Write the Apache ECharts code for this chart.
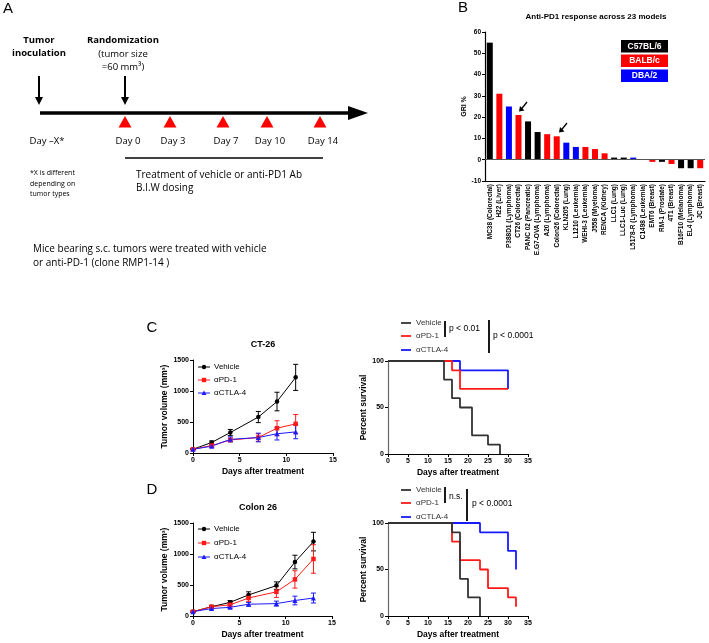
<!DOCTYPE html>
<html><head><meta charset="utf-8">
<script src="https://cdn.jsdelivr.net/npm/echarts@6/dist/echarts.min.js"></script>
<style>html,body{margin:0;padding:0;background:#fff}#c{width:709px;height:643px}</style>
</head><body><div id="c"></div>
<script>
// ---------- Panel B data ----------
const gbModels = ["MC38 (Colorectal)","H22 (Liver)","P388D1 (Lymphoma)","CT26 (Colorectal)","PANC 02 (Pancreatic)","E.G7-OVA (Lymphoma)","A20 (Lymphoma)","Colon26 (Colorectal)","KLN205 (Lung)","L1210 (Leukemia)","WEHI-3 (Leukemia)","J558 (Myeloma)","RENCA (Kidney)","LLC1 (Lung)","LLC1-Luc (Lung)","L5178-R (Lymphoma)","C1498 (Leukemia)","EMT6 (Breast)","RM-1 (Prostate)","4T1 (Breast)","B16F10 (Melanoma)","EL4 (Lymphoma)","JC (Breast)"];
const gbValues = [55,31,25,21,18,13,12,11,8,6,6,5,3,1,1,1,0,-1,-1,-2,-4,-4,-4];
const gbStrain = ["C57","BALB","DBA","BALB","C57","C57","BALB","BALB","DBA","DBA","BALB","BALB","BALB","C57","C57","DBA","C57","BALB","C57","BALB","C57","C57","BALB"];
const strainNames = ["C57BL/6","BALB/c","DBA/2"];
const gbYTicks = [-10,0,10,20,30,40,50,60];

// ---------- Panel C (CT-26) ----------
const ctDays = [0,2,4,7,9,11];
const ctVeh = [60,170,330,580,830,1220];
const ctVehErr = [10,25,50,90,150,210];
const ctPD1 = [60,120,210,250,400,470];
const ctPD1Err = [10,20,30,60,120,150];
const ctCTLA = [60,110,220,250,310,340];
const ctCTLAErr = [10,20,40,70,100,110];
const ctSurvVehT = [0,14,16,18,21,25,28];
const ctSurvVehP = [100,80,60,50,20,10,0];
const ctSurvPD1T = [0,16,18,30];
const ctSurvPD1P = [100,90,70,70];
const ctSurvCTLAT = [0,18,30,30];
const ctSurvCTLAP = [100,90,90,70];

// ---------- Panel D (Colon 26) ----------
const coDays = [0,2,4,6,9,11,13];
const coVeh = [70,150,220,340,490,870,1200];
const coVehErr = [10,20,30,50,60,110,150];
const coPD1 = [70,150,180,290,390,590,920];
const coPD1Err = [10,20,30,60,90,140,230];
const coCTLA = [70,120,140,190,200,250,290];
const coCTLAErr = [10,20,20,30,40,70,80];
const coSurvVehT = [0,16,18,20,23];
const coSurvVehP = [100,90,40,20,0];
const coSurvPD1T = [0,16,18,23,25,30,32];
const coSurvPD1P = [100,80,60,50,30,20,10];
const coSurvCTLAT = [0,23,30,32];
const coSurvCTLAP = [100,90,70,50];

const groupNames = ["Vehicle","αPD-1","αCTLA-4"];

const BLACK='#000000', RED='#ff1a1a', BLUE='#1a1aff', DARK='#333333';
const strainColor = {C57:'#000000', BALB:'#ff0000', DBA:'#0000ff'};
const AF = 'Liberation Sans, Arial, sans-serif';
const CF = 'Open Sans, Noto Sans, sans-serif';

const chart = echarts.init(document.getElementById('c'), null, {renderer:'canvas'});

function pairs(a,b){return a.map((v,i)=>[v,b[i]]);}
function errData(x,m,e){return x.map((d,i)=>[d,m[i]-e[i],m[i]+e[i]]);}
function errSeries(data,color,gi){
  return {type:'custom', xAxisIndex:gi, yAxisIndex:gi, data:data, z:3, silent:true,
    renderItem:function(params,api){
      const x=api.value(0), lo=api.value(1), hi=api.value(2);
      const p1=api.coord([x,lo]), p2=api.coord([x,hi]); const w=2.5;
      return {type:'group',children:[
        {type:'line',shape:{x1:p1[0],y1:p1[1],x2:p2[0],y2:p2[1]},style:{stroke:color,lineWidth:1}},
        {type:'line',shape:{x1:p1[0]-w,y1:p1[1],x2:p1[0]+w,y2:p1[1]},style:{stroke:color,lineWidth:1}},
        {type:'line',shape:{x1:p2[0]-w,y1:p2[1],x2:p2[0]+w,y2:p2[1]},style:{stroke:color,lineWidth:1}}
      ]};
    }};
}
function growthLine(name,data,color,symbol,gi){
  return {type:'line',name:name,xAxisIndex:gi,yAxisIndex:gi,data:data,symbol:symbol,symbolSize:symbol==='triangle'?5:4.5,
    showSymbol:true,itemStyle:{color:color},lineStyle:{color:color,width:1},z:4,silent:true,animation:false};
}
function survLine(name,data,color,gi,z){
  return {type:'line',name:name,xAxisIndex:gi,yAxisIndex:gi,data:data,step:'end',symbol:'none',
    lineStyle:{color:color,width:1.8},z:z,silent:true,animation:false};
}

const plain = v => String(v);
const tickLbl = {fontFamily:AF,fontSize:7,fontWeight:'bold',color:'#000',formatter:plain};
function growthX(gi){return {gridIndex:gi,type:'value',min:0,max:15,interval:5,
  name:'Days after treatment',nameLocation:'middle',nameGap:14,
  nameTextStyle:{fontFamily:AF,fontSize:8.5,fontWeight:'bold',color:'#000'},
  axisLine:{lineStyle:{color:'#000',width:1}},axisTick:{length:3,lineStyle:{color:'#000'}},
  axisLabel:Object.assign({margin:4},tickLbl),splitLine:{show:false}};}
function growthY(gi){return {gridIndex:gi,type:'value',min:0,max:1500,interval:500,
  name:'Tumor volume (mm³)',nameLocation:'middle',nameGap:21,
  nameTextStyle:{fontFamily:AF,fontSize:8.5,fontWeight:'bold',color:'#000'},
  axisLine:{show:true,lineStyle:{color:'#000',width:1}},axisTick:{show:true,length:3,lineStyle:{color:'#000'}},
  axisLabel:Object.assign({margin:4},tickLbl),splitLine:{show:false}};}
function survX(gi){return {gridIndex:gi,type:'value',min:0,max:35,interval:5,
  name:'Days after treatment',nameLocation:'middle',nameGap:14,
  nameTextStyle:{fontFamily:AF,fontSize:8.5,fontWeight:'bold',color:'#000'},
  axisLine:{lineStyle:{color:'#000',width:1}},axisTick:{length:3,lineStyle:{color:'#000'}},
  axisLabel:Object.assign({margin:4},tickLbl),splitLine:{show:false}};}
function survY(gi){return {gridIndex:gi,type:'value',min:0,max:100,interval:50,
  name:'Percent survival',nameLocation:'middle',nameGap:18,
  nameTextStyle:{fontFamily:AF,fontSize:8.5,fontWeight:'bold',color:'#000'},
  axisLine:{show:true,lineStyle:{color:'#666',width:1.2}},axisTick:{show:true,length:3,lineStyle:{color:'#000'}},
  axisLabel:Object.assign({margin:4},tickLbl),splitLine:{show:false}};}

// ---------- graphics (panel A, labels, legends) ----------
const G = [];
function txt(t,x,y,opt){opt=opt||{};G.push({type:'text',x:x,y:y,silent:true,style:{text:t,
  font:(opt.weight||'normal')+' '+(opt.size||9)+'px '+(opt.family||AF),fill:opt.color||'#000',
  align:opt.align||'left',verticalAlign:'middle'}});}
function ln(x1,y1,x2,y2,w,c){G.push({type:'line',silent:true,shape:{x1:x1,y1:y1,x2:x2,y2:y2},style:{stroke:c||'#000',lineWidth:w}});}
function poly(pts,c){G.push({type:'polygon',silent:true,shape:{points:pts},style:{fill:c}});}
function rect(x,y,w,h,c){G.push({type:'rect',silent:true,shape:{x:x,y:y,width:w,height:h},style:{fill:c}});}

// Panel letters
txt('A',8,9,{size:15,align:'center'});
txt('B',463,8,{size:15,align:'center'});
txt('C',152,328,{size:15,align:'center'});
txt('D',152,490,{size:15,align:'center'});

// Panel A timeline
txt('Tumor',39,40,{family:CF,weight:'bold',size:9.5,align:'center'});
txt('inoculation',39,53,{family:CF,weight:'bold',size:9.5,align:'center'});
txt('Randomization',123,40,{family:CF,weight:'bold',size:9.5,align:'center'});
txt('(tumor size',123,54,{family:CF,size:9.5,align:'center'});
txt('=60 mm³)',123,67,{family:CF,size:9.5,align:'center'});
ln(39,76,39,100,2); poly([[35,97],[39,105],[43,97]],'#000');
ln(125,76,125,100,2); poly([[121,97],[125,105],[129,97]],'#000');
ln(40,113,350,113,3.5); poly([[348,106],[368,113],[348,120]],'#000');
const doseDays = ['Day 0','Day 3','Day 7','Day 10','Day 14'];
const doseX = [125,170,223,267,320];
doseX.forEach(c=>poly([[c-6.5,127.5],[c,116],[c+6.5,127.5]],'#ff0000'));
txt('Day –X*',47,141,{family:CF,size:9.5,align:'center'});
doseDays.forEach((d,i)=>txt(d,doseX[i]+3,141,{family:CF,size:9.5,align:'center'}));
ln(125,158,323,158,1.3);
txt('Treatment of vehicle or anti-PD1 Ab',136,175,{family:CF,size:10});
txt('B.I.W dosing',136,188,{family:CF,size:10});
txt('*X is different',30,173,{family:CF,size:7});
txt('depending on',30,183.5,{family:CF,size:7});
txt('tumor types',30,194,{family:CF,size:7});
txt('Mice bearing s.c. tumors were treated with vehicle',33,249,{family:CF,size:10});
txt('or anti-PD-1 (clone RMP1-14 )',33,263,{family:CF,size:10});

// Panel B title, legend, arrows
txt('Anti-PD1 response across 23 models',596,17,{weight:'bold',size:8,align:'center'});
const legY=[40,54.5,69.5], legC=['#000000','#ff0000','#0000ff'];
strainNames.forEach((s,i)=>{rect(621,legY[i],47,12.5,legC[i]);txt(s,644.5,legY[i]+6.5,{weight:'bold',size:8.5,color:'#fff',align:'center'});});
function smallArrow(x1,y1,x2,y2){ln(x1,y1,x2+2,y2-2,1.3);poly([[x2,y2],[x2+1,y2-5.5],[x2+5.5,y2-1]],'#000');}
smallArrow(527,102,519,111.5);
smallArrow(567,123,559,132.5);

// Growth titles and legends
txt('CT-26',263,345,{weight:'bold',size:9,align:'center'});
txt('Colon 26',258,508,{weight:'bold',size:9,align:'center'});
const gCol=[BLACK,RED,BLUE];
function growthLegend(ys){
  ys.forEach((y,i)=>{ln(198,y,210,y,1,gCol[i]);
    if(i===0) G.push({type:'circle',silent:true,shape:{cx:204,cy:y,r:2.2},style:{fill:gCol[i]}});
    if(i===1) rect(201.8,y-2.2,4.4,4.4,gCol[i]);
    if(i===2) poly([[201.5,y+2],[204,y-2.5],[206.5,y+2]],gCol[i]);
    txt(groupNames[i],214,y,{size:8});});
}
growthLegend([367,380,393]);
growthLegend([529,543,557]);
const sCol=[DARK,RED,BLUE];
function survLegend(ys){ys.forEach((y,i)=>{ln(401,y,411,y,1.8,sCol[i]);txt(groupNames[i],416,y,{size:8,color:'#333'});});}
survLegend([323,336,350]);
survLegend([490,503,517]);
ln(445,321,445,337,1.8); txt('p < 0.01',449,329,{size:8.5});
ln(489,320,489,353,1.8); txt('p < 0.0001',493,336,{size:8.5});
ln(445,487,445,503,1.8); txt('n.s.',449,497,{size:8.5});
ln(467,489,467,521,1.8); txt('p < 0.0001',472,504,{size:8.5});

const option = {
  animation:false,
  backgroundColor:'#ffffff',
  grid:[
    {left:485,top:32,width:220,height:149},
    {left:193,top:360,width:140,height:93},
    {left:388,top:361,width:140,height:93},
    {left:193,top:523,width:139,height:93},
    {left:388,top:523,width:140,height:93}
  ],
  xAxis:[
    {gridIndex:0,type:'category',data:gbModels,axisLine:{onZero:false,lineStyle:{color:'#000',width:1.2}},
      axisTick:{show:false},axisLabel:{rotate:90,interval:0,margin:3,fontFamily:AF,fontSize:6.5,fontWeight:'bold',color:'#000'}},
    growthX(1), survX(2), growthX(3), survX(4)
  ],
  yAxis:[
    {gridIndex:0,type:'value',min:gbYTicks[0],max:gbYTicks[gbYTicks.length-1],interval:10,
      name:'GRI %',nameLocation:'middle',nameGap:17,nameTextStyle:{fontFamily:AF,fontSize:7,fontWeight:'bold',color:'#000'},
      axisLine:{show:true,lineStyle:{color:'#000',width:1.2}},axisTick:{show:true,length:3,lineStyle:{color:'#000'}},
      axisLabel:Object.assign({margin:4},tickLbl,{fontSize:6.5}),splitLine:{show:false}},
    growthY(1), survY(2), growthY(3), survY(4)
  ],
  series:[
    {type:'bar',xAxisIndex:0,yAxisIndex:0,barWidth:6,silent:true,
      data:gbValues.map((v,i)=>({value:v,itemStyle:{color:strainColor[gbStrain[i]]}})),
      markLine:{silent:true,symbol:'none',label:{show:false},lineStyle:{color:'#555',width:1,type:'solid'},data:[{yAxis:0}]}},
    errSeries(errData(ctDays,ctVeh,ctVehErr),BLACK,1),
    errSeries(errData(ctDays,ctPD1,ctPD1Err),RED,1),
    errSeries(errData(ctDays,ctCTLA,ctCTLAErr),BLUE,1),
    growthLine('Vehicle',pairs(ctDays,ctVeh),BLACK,'circle',1),
    growthLine('αPD-1',pairs(ctDays,ctPD1),RED,'rect',1),
    growthLine('αCTLA-4',pairs(ctDays,ctCTLA),BLUE,'triangle',1),
    survLine('αCTLA-4',pairs(ctSurvCTLAT,ctSurvCTLAP),BLUE,2,2),
    survLine('αPD-1',pairs(ctSurvPD1T,ctSurvPD1P),RED,2,3),
    survLine('Vehicle',pairs(ctSurvVehT,ctSurvVehP),DARK,2,4),
    errSeries(errData(coDays,coVeh,coVehErr),BLACK,3),
    errSeries(errData(coDays,coPD1,coPD1Err),RED,3),
    errSeries(errData(coDays,coCTLA,coCTLAErr),BLUE,3),
    growthLine('Vehicle',pairs(coDays,coVeh),BLACK,'circle',3),
    growthLine('αPD-1',pairs(coDays,coPD1),RED,'rect',3),
    growthLine('αCTLA-4',pairs(coDays,coCTLA),BLUE,'triangle',3),
    survLine('αCTLA-4',pairs(coSurvCTLAT,coSurvCTLAP),BLUE,4,2),
    survLine('αPD-1',pairs(coSurvPD1T,coSurvPD1P),RED,4,3),
    survLine('Vehicle',pairs(coSurvVehT,coSurvVehP),DARK,4,4)
  ],
  graphic:{elements:G}
};
chart.setOption(option);
</script></body></html>
